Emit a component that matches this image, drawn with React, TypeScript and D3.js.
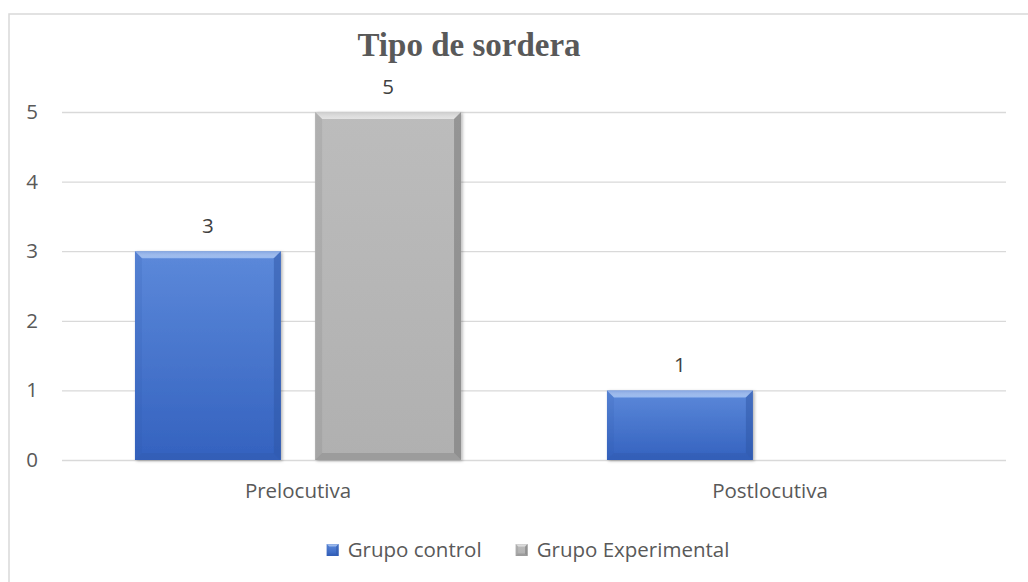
import React from "react";
import * as d3 from "d3";

const title = "Tipo de sordera";
const categories = ["Prelocutiva", "Postlocutiva"];
const seriesNames = ["Grupo control", "Grupo Experimental"];
const controlValues: (number | null)[] = [3, 1];
const experimentalValues: (number | null)[] = [5, null];
const yTicks = [0, 1, 2, 3, 4, 5];

const FONT = "'Open Sans', 'Liberation Sans', sans-serif";
const FS = 20.5;
const palette = [
  { id: "blue", top: "#5C89DA", bottom: "#3462BF", edge: "#2D55A6", hi: "#9DBEF2" },
  { id: "gray", top: "#BCBCBC", bottom: "#B0B0B0", edge: "#6E6E6E", hi: "#E6E6E6" },
];

const appendDefs = (svg) => {
  const defs = svg.append("defs");
  palette.forEach(p => {
    const g = defs.append("linearGradient").attr("id", "grad-" + p.id)
      .attr("x1", 0).attr("y1", 0).attr("x2", 0).attr("y2", 1);
    g.append("stop").attr("offset", "0%").attr("stop-color", p.top);
    g.append("stop").attr("offset", "100%").attr("stop-color", p.bottom);
    const h = defs.append("linearGradient").attr("id", "hi-" + p.id)
      .attr("x1", 0).attr("y1", 0).attr("x2", 0).attr("y2", 1);
    h.append("stop").attr("offset", "0%").attr("stop-color", "#ffffff").attr("stop-opacity", 0.25);
    h.append("stop").attr("offset", "100%").attr("stop-color", p.hi);
  });
  const f = defs.append("filter").attr("id", "shadow")
    .attr("x", "-10%").attr("y", "-10%").attr("width", "130%").attr("height", "130%");
  f.append("feDropShadow").attr("dx", 1.5).attr("dy", 1).attr("stdDeviation", 1.5)
    .attr("flood-color", "#000").attr("flood-opacity", 0.3);
};

// bar with a bevelled look like the office chart style
const appendBevelBar = (sel, x, y, w, h, p, b) => {
  const g = sel.append("g");
  g.append("rect").attr("x", x).attr("y", y).attr("width", w).attr("height", h)
    .attr("fill", `url(#grad-${p.id})`).attr("filter", "url(#shadow)");
  const bb = Math.min(b, h / 2, w / 2);
  const poly = (pts, fill, op) => g.append("polygon")
    .attr("points", pts.map(d => d.join(",")).join(" "))
    .attr("fill", fill).attr("opacity", op);
  poly([[x, y], [x + w, y], [x + w - bb, y + bb], [x + bb, y + bb]], `url(#hi-${p.id})`, 0.9);
  poly([[x, y], [x + bb, y + bb], [x + bb, y + h - bb], [x, y + h]], p.edge, 0.15);
  poly([[x + w, y], [x + w, y + h], [x + w - bb, y + h - bb], [x + w - bb, y + bb]], p.edge, 0.5);
  poly([[x, y + h], [x + bb, y + h - bb], [x + w - bb, y + h - bb], [x + w, y + h]], p.edge, 0.3);
  return g;
};

const drawChart = (node) => {
  const svg = d3.select(node);
  svg.selectAll("*").remove();
  appendDefs(svg);

  const plot = { left: 62, right: 1006, top: 112, bottom: 460 };
  const y = d3.scaleLinear([0, 5], [plot.bottom, plot.top]);
  const x0 = d3.scaleBand(categories, [plot.left, plot.right]);
  const x1 = d3.scaleBand(seriesNames, [0, x0.bandwidth()])
    .paddingInner(0.19).paddingOuter(0.405);

  // chart border
  svg.append("rect").attr("x", 9).attr("y", 14).attr("width", 1040).attr("height", 600)
    .attr("fill", "#fff").attr("stroke", "#D9D9D9").attr("stroke-width", 1.5);

  // title
  svg.append("text").attr("x", 469).attr("y", 56).attr("text-anchor", "middle")
    .attr("font-family", "'Liberation Serif', 'Times New Roman', serif")
    .attr("font-weight", "bold").attr("font-size", 33).attr("fill", "#595959")
    .text(title);

  // gridlines + y axis labels
  const yAxis = d3.axisLeft(y).tickValues(yTicks).tickSize(-(plot.right - plot.left))
    .tickPadding(24).tickFormat(d3.format("d"));
  const ga = svg.append("g").attr("transform", `translate(${plot.left},0)`).call(yAxis);
  ga.select(".domain").remove();
  ga.selectAll("line").attr("stroke", "#D9D9D9").attr("stroke-width", 1.3);
  ga.selectAll("text").attr("font-family", FONT).attr("font-size", FS).attr("fill", "#595959");

  // x axis labels
  const xa = svg.append("g").attr("transform", `translate(0,${plot.bottom})`)
    .call(d3.axisBottom(x0).tickSize(0).tickPadding(23));
  xa.select(".domain").remove();
  xa.selectAll("text").attr("font-family", FONT).attr("font-size", FS).attr("fill", "#595959");

  const seriesValues = [controlValues, experimentalValues];
  seriesValues.forEach((vals, si) => {
    const p = palette[si];
    vals.forEach((v, ci) => {
      if (v == null) return;
      const bx = x0(categories[ci]) + x1(seriesNames[si]);
      const by = y(v);
      appendBevelBar(svg, bx, by, x1.bandwidth(), y(0) - by, p, 7);
      svg.append("text").attr("x", bx + x1.bandwidth() / 2).attr("y", by - 18)
        .attr("text-anchor", "middle").attr("font-family", FONT).attr("font-size", FS)
        .attr("fill", "#404040").text(v);
    });
  });

  // legend
  const legend = svg.append("g");
  let cx = 0;
  seriesNames.forEach((name, i) => {
    const item = legend.append("g").attr("transform", `translate(${cx},0)`);
    appendBevelBar(item, 0, -6, 12, 12, palette[i], 2.5).select("rect").attr("filter", null);
    const t = item.append("text").attr("x", 21).attr("y", 0).attr("dy", "0.35em")
      .attr("font-family", FONT).attr("font-size", FS).attr("fill", "#595959").text(name);
    const tw = t.node().getComputedTextLength();
    cx += 21 + tw + 34;
  });
  const total = cx - 34;
  legend.attr("transform", `translate(${528 - total / 2},550)`);
};

const App = () => {
  const ref = React.useRef(null);
  React.useEffect(() => {
    drawChart(ref.current);
  }, []);
  return (
    <svg ref={ref} width={1028} height={582}
      style={{ position: "fixed", left: 0, top: 0, background: "#fff" }} />
  );
};

export default App;
